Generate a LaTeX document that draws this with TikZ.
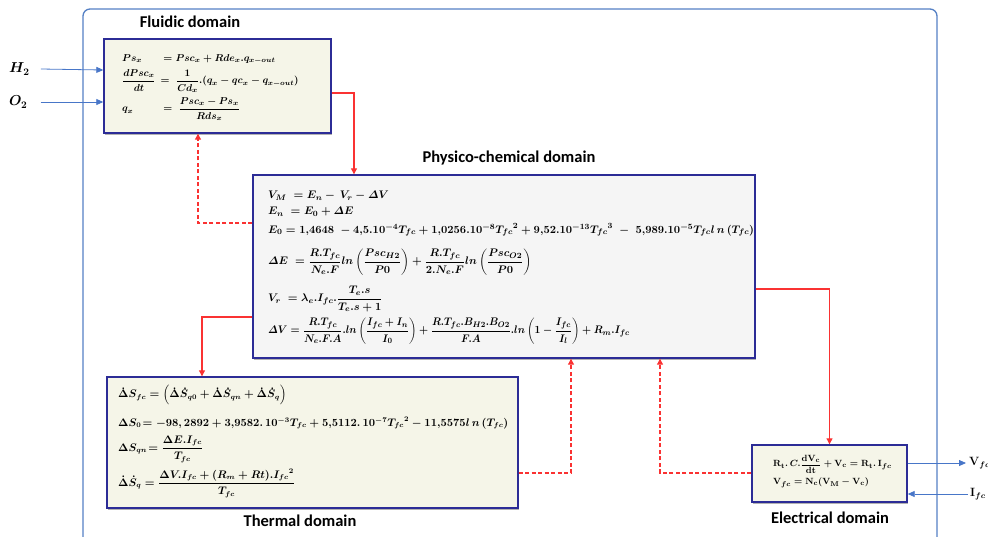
\documentclass[tikz,border=0pt]{standalone}
\usepackage{amsmath}
\usepackage{fontspec}
\newfontfamily\titlefont{Carlito}
\usetikzlibrary{arrows.meta,shadows}

\definecolor{framecol}{RGB}{84,128,196}
\definecolor{navy}{RGB}{44,44,150}
\definecolor{beige}{RGB}{245,245,232}
\definecolor{pale}{RGB}{245,245,245}
\definecolor{linkred}{RGB}{250,50,50}
\definecolor{iolink}{RGB}{72,118,200}

\tikzset{
  frame/.style={draw=framecol, line width=1.3pt, rounded corners=7pt},
  dombox/.style={draw=navy, line width=1.4pt, inner sep=0pt,
    drop shadow={shadow xshift=1.2pt, shadow yshift=-2.2pt, fill=black!30, opacity=1}},
  title/.style={font=\titlefont\bfseries\fontsize{16.5}{18}\selectfont, inner sep=0pt},
  eq/.style={anchor=west, inner sep=0pt, font=\boldmath\fontsize{#1}{13}\selectfont},
  eq/.default=10.8,
  flow/.style={draw=linkred, line width=1.1pt, -{Triangle[length=6pt,width=6pt]}},
  feedback/.style={flow, dash pattern=on 4pt off 2.5pt},
  io/.style={draw=iolink, line width=0.8pt, -{Triangle[length=7pt,width=6pt]}},
  iolabel/.style={inner sep=0pt, font=\boldmath\fontsize{14}{16}\selectfont},
}

\begin{document}
\begin{tikzpicture}[x=1pt, y=-1pt]
\useasboundingbox (0,0) rectangle (988,536);

% enclosing frame, open at the bottom
\draw[frame] (83,545) |- (937,9) -- (937,545);

% domain boxes
\node[dombox, fill=beige, minimum width=227pt, minimum height=94pt] (fluid) at (217.5,86) {};
\node[dombox, fill=pale,  minimum width=502pt, minimum height=183pt] (phys) at (504,266.5) {};
\node[dombox, fill=beige, minimum width=411pt, minimum height=131pt] (therm) at (312.5,442.5) {};
\node[dombox, fill=beige, minimum width=155pt, minimum height=57pt] (elec) at (829.5,473.5) {};

% titles
\node[title] (tfluid) at (190,22) {Fluidic domain};
\node[title] (tphys)  at (509,158) {Physico-chemical domain};
\node[title] (ttherm) at (300,521) {Thermal domain};
\node[title] (telec)  at (830,518) {Electrical domain};

% fluidic equations
\node[eq=10] (f1) at (122,59) {$\makebox[38pt][l]{$Ps_x$}= Psc_x + Rde_x.q_{x-out}$};
\node[eq=10] (f2) at (122,81) {$\displaystyle\frac{dPsc_x}{dt}\,= \;\frac{1}{Cd_x}.(q_x - qc_x - q_{x-out})$};
\node[eq=10] (f3) at (122,109) {$\makebox[38pt][l]{$q_x$}= \;\displaystyle\frac{Psc_x - Ps_x}{Rds_x}$};

% physico-chemical equations
\node[eq] (p1) at (268,196) {$V_M\; = E_n -\, V_r - \varDelta V$};
\node[eq] (p2) at (268,212) {$E_n\; = E_0 + \varDelta E$};
\node[eq] (p3) at (268,230) {$E_0 = 1{,}4648\; - 4{,}5.10^{-4}T_{fc} +1{,}0256.10^{-8}{T_{fc}}^2 + 9{,}52.10^{-13}{T_{fc}}^3\; -\; 5{,}989.10^{-5}T_{fc}l\,n\left(T_{fc}\right)$};
\node[eq] (p4) at (268,262) {$\varDelta E\; = \displaystyle\frac{R.T_{fc}}{N_e.F}ln\left(\frac{Psc_{H2}}{P0}\right) + \frac{R.T_{fc}}{2.N_e.F}ln\left(\frac{Psc_{O2}}{P0}\right)$};
\node[eq] (p5) at (268,299) {$V_r\; = \lambda_e.I_{fc}.\displaystyle\frac{T_e.s}{T_e.s+1}$};
\node[eq] (p6) at (268,331) {\scalebox{0.93}[1]{$\varDelta V = \displaystyle\frac{R.T_{fc}}{N_e.F.A}.ln\left(\frac{I_{fc}+I_n}{I_0}\right) + \frac{R.T_{fc}.B_{H2}.B_{O2}}{F.A}.ln\left(1-\frac{I_{fc}}{I_l}\right) + R_m.I_{fc}$}};

% thermal equations
\node[eq=10.5] (t1) at (118,395) {$\dot\Delta S_{fc} = \left(\dot\Delta\dot S_{q0} + \dot\Delta\dot S_{qn} + \dot\Delta\dot S_q\right)$};
\node[eq=10.5] (t2) at (118,423) {$\Delta S_0\!= -98{,}\,2892 + 3{,}9582.\,10^{-3}T_{fc} + 5{,}5112.\,10^{-7}{T_{fc}}^2 - 11{,}5575l\,n\left(T_{fc}\right)$};
\node[eq=10.5] (t3) at (118,449) {$\Delta S_{qn}\!= \displaystyle\frac{\Delta E.I_{fc}}{T_{fc}}$};
\node[eq=10.5] (t4) at (118,483) {$\dot\Delta\dot S_q = \displaystyle\frac{\Delta V.I_{fc} + (R_m + Rt).{I_{fc}}^2}{T_{fc}}$};

% electrical equations
\node[eq=9.5] (e1) at (773,464) {$\mathbf{R_t}.\,C.\displaystyle\frac{\mathbf{dV_c}}{\mathbf{dt}} + \mathbf{V_c} = \mathbf{R_t}.\,\mathbf{I}_{fc}$};
\node[eq=9.5] (e2) at (773,483) {$\mathbf{V}_{fc} = \mathbf{N_c(V_M - V_c)}$};

% external inputs and outputs
\node[iolabel, anchor=west] (h2) at (9,69) {$H_2$};
\node[iolabel, anchor=west] (o2) at (9,102) {$O_2$};
\node[iolabel, anchor=west, font=\boldmath\fontsize{11.5}{13}\selectfont] (vfc) at (969,463) {$\mathbf{V}_{fc}$};
\node[iolabel, anchor=west, font=\boldmath\fontsize{11.5}{13}\selectfont] (ifc) at (970,494) {$\mathbf{I}_{fc}$};

\draw[io] ([xshift=11pt]h2.east) -- ([yshift=16pt]fluid.west);
\draw[io] ([xshift=13pt]o2.east) -- ([yshift=-16pt]fluid.west);
\draw[io] ([yshift=10.5pt]elec.east) -- ([xshift=-3pt]vfc.west);
\draw[io] ([xshift=-2pt]ifc.west) -- ([yshift=-20.5pt]elec.east);

% couplings between domains
\draw[flow] ([yshift=-7pt]fluid.east) -| ([xshift=-150pt]phys.north);
\draw[feedback] ([yshift=43.5pt]phys.west) -| ([xshift=-19.5pt]fluid.south);
\draw[flow] ([yshift=-50.5pt]phys.west) -| ([xshift=-110.5pt]therm.north);
\draw[feedback] ([yshift=-30.5pt]therm.east) -| ([xshift=67pt]phys.south);
\draw[feedback] ([yshift=0.5pt]elec.west) -| ([xshift=156pt]phys.south);
\draw[flow] ([yshift=-22.5pt]phys.east) -| (elec.north);
\end{tikzpicture}
\end{document}
